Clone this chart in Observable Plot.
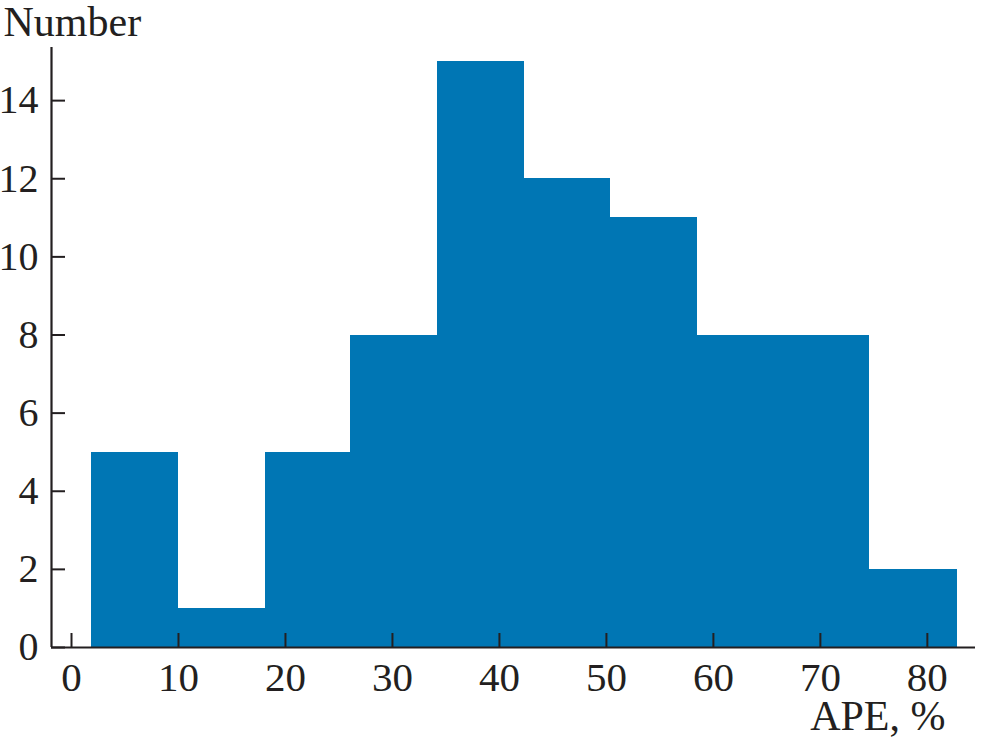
<!DOCTYPE html>
<html>
<head>
<meta charset="utf-8">
<script src="https://cdn.jsdelivr.net/npm/d3@7"></script>
<script src="https://cdn.jsdelivr.net/npm/@observablehq/plot@0.6"></script>
<style>
  html, body { margin: 0; padding: 0; background: #ffffff; }
  #chart svg { display: block; }
</style>
</head>
<body>
<div id="chart"></div>
<script>
// Bin edges (APE, %) and counts per bin
const binEdges = [1.9, 10.0, 18.1, 26.1, 34.2, 42.3, 50.4, 58.5, 66.6, 74.6, 82.8];
const counts = [5, 1, 5, 8, 15, 12, 11, 8, 8, 2];
const xTicks = [0, 10, 20, 30, 40, 50, 60, 70, 80];
const yTicks = [0, 2, 4, 6, 8, 10, 12, 14];
const xDomain = [-1.87, 84.5];
const yDomain = [0, 15.36];
const yLabel = "Number";
const xLabel = "APE, %";

const bins = counts.map((c, i) => ({x1: binEdges[i], x2: binEdges[i + 1], count: c}));

const ink = "#231f20";
const barColor = "#0076b4";

const chart = Plot.plot({
  width: 982,
  height: 740,
  marginLeft: 51,
  marginRight: 7,
  marginTop: 47,
  marginBottom: 93,
  style: {fontFamily: "'Liberation Serif', 'Times New Roman', serif", fontSize: "40px", color: ink, background: "#ffffff"},
  x: {domain: xDomain},
  y: {domain: yDomain},
  marks: [
    Plot.rectY(bins, {x1: "x1", x2: "x2", y: "count", fill: barColor, shapeRendering: "crispEdges"}),
    Plot.ruleY([yDomain[0]], {stroke: ink, strokeWidth: 2.2}),
    Plot.ruleX([xDomain[0]], {stroke: ink, strokeWidth: 2.2}),
    Plot.axisX({ticks: xTicks, tickSize: -14, tickPadding: 28, tickFormat: d => String(d), stroke: ink, strokeWidth: 2, fill: ink, fontSize: 41, label: null}),
    Plot.axisY({ticks: yTicks, tickSize: -14, tickPadding: 27, tickFormat: d => String(d), stroke: ink, strokeWidth: 2, fill: ink, fontSize: 40, label: null}),
    Plot.text([yLabel], {text: d => d, frameAnchor: "top-left", dx: -48, dy: -12, textAnchor: "start", lineAnchor: "bottom", fill: ink, fontSize: 42}),
    Plot.text([xLabel], {text: d => d, frameAnchor: "bottom-right", dx: -30, dy: 82, textAnchor: "end", lineAnchor: "bottom", fill: ink, fontSize: 42})
  ]
});
document.getElementById("chart").appendChild(chart);
</script>
</body>
</html>
